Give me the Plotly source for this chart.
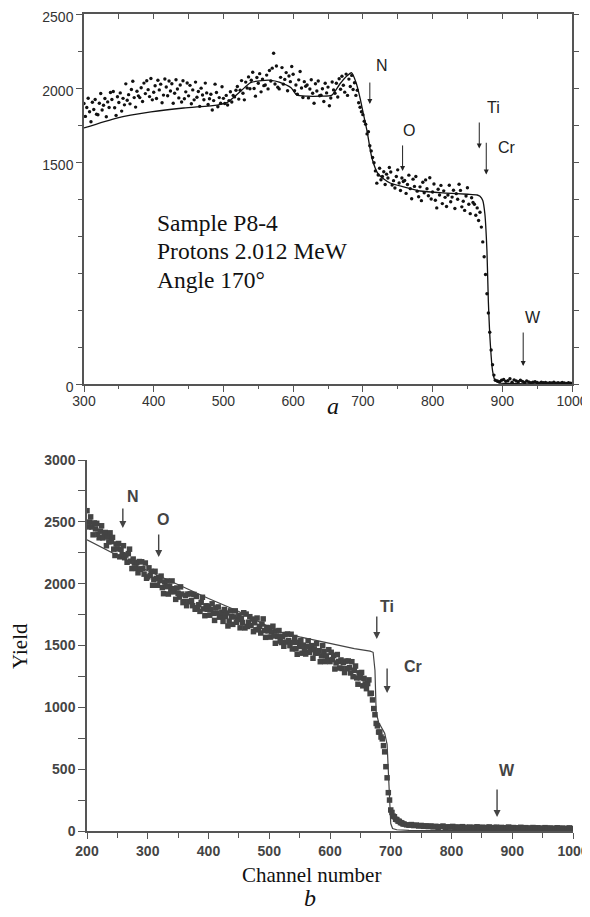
import plotly.graph_objects as go

# ---------------- data: panel a ----------------
chan_a_main = list(range(300, 870, 2))
yield_a_main = [
    1895, 1808, 1868, 1931, 1840, 1772, 1904, 1855, 1922, 1823,
    1819, 1897, 1963, 1851, 1883, 1929, 1806, 1906, 1868, 1970,
    1922, 1976, 1867, 1815, 1941, 1902, 1967, 1844, 1930, 1886,
    2028, 1917, 1955, 1893, 1990, 2046, 1935, 1871, 1978, 1947,
    1935, 2002, 1909, 2033, 1962, 2049, 1989, 1942, 2064, 1920,
    1971, 2015, 1929, 2052, 1987, 2026, 1900, 1952, 2061, 2007,
    1948, 2047, 1980, 2029, 1897, 1965, 2056, 1993, 1933, 2020,
    1905, 2049, 1927, 1974, 2034, 1947, 2018, 1894, 1987, 1920,
    2040, 1938, 1976, 1876, 1999, 1953, 1921, 2033, 1967, 1889,
    1927, 1958, 1851, 1915, 2026, 1970, 1873, 1935, 1897, 2008,
    1930, 1895, 1950, 1885, 1915, 1975, 1905, 1950, 1940, 1985,
    2010, 1925, 1985, 2050, 1965, 1920, 2040, 2000, 2075, 1995,
    2052, 2106, 1997, 1945, 2071, 2032, 2097, 1974, 2060, 2016,
    2020, 2087, 1994, 2118, 2047, 2134, 2235, 2027, 2149, 2005,
    1994, 2072, 2138, 2026, 2058, 2104, 1981, 2081, 2043, 2145,
    2093, 1982, 2020, 1958, 2055, 2111, 2000, 1936, 2043, 2012,
    2020, 1933, 1993, 2056, 1965, 1897, 2029, 1980, 2047, 1948,
    1951, 1995, 1909, 2032, 1967, 2006, 1880, 1932, 2041, 1987,
    1965, 2032, 1939, 2063, 1992, 2079, 2019, 1972, 2094, 1950,
    2060, 2010, 2085, 1990, 2035, 1950, 1985, 1900, 1870, 1840,
    1820, 1775, 1755, 1690, 1705, 1610, 1575, 1530, 1495, 1440,
    1357, 1412, 1458, 1380, 1402, 1434, 1348, 1418, 1392, 1463,
    1432, 1344, 1374, 1324, 1402, 1447, 1358, 1307, 1392, 1368,
    1375, 1288, 1348, 1411, 1320, 1252, 1384, 1335, 1402, 1303,
    1265, 1332, 1239, 1363, 1292, 1379, 1319, 1272, 1394, 1250,
    1297, 1351, 1242, 1190, 1316, 1277, 1342, 1219, 1305, 1261,
    1199, 1277, 1343, 1231, 1263, 1309, 1186, 1286, 1248, 1350,
    1308, 1197, 1235, 1173, 1270, 1326, 1215, 1151, 1258, 1227,
    1215, 1140, 1190, 1105, 1160,
]
chan_a_edge = [870, 872, 874, 876, 878, 880, 882, 884, 886, 888, 890]
yield_a_edge = [1060, 960, 860, 740, 610, 480, 350, 230, 130, 60, 25]
chan_a_tail = list(range(893, 1000, 3))
yield_a_tail = [
    20, 15, 25, 30, 18, 22, 35, 12, 28, 20, 15, 25, 18, 10, 20, 14, 8, 12,
    15, 10, 6, 12, 8, 10, 5, 9, 7, 12, 6, 8, 5, 10, 7, 4, 8, 6,
]
fit_a_chan = [300, 347, 396, 443, 491, 505, 525, 539, 555, 568, 580, 597, 605,
              620, 640, 655, 667, 677, 684, 690, 696, 701, 706, 713, 722, 739,
              760, 782, 820, 850, 864, 868, 872, 875, 878, 880, 883, 886, 889,
              895, 920, 1000]
fit_a_yield = [1730, 1797, 1838, 1865, 1885, 1901, 1980, 2036, 2050, 2052, 2040,
               2002, 1953, 1945, 1945, 1950, 2027, 2081, 2103, 2040, 1932, 1820,
               1710, 1527, 1419, 1358, 1330, 1304, 1290, 1282, 1277, 1268, 1240,
               1150, 900, 560, 260, 90, 30, 8, 3, 0]

# ---------------- data: panel b ----------------
chan_b_main = list(range(200, 670, 2))
yield_b_main = [
    2590, 2459, 2498, 2540, 2458, 2395, 2491, 2443, 2488, 2399,
    2371, 2425, 2468, 2370, 2386, 2414, 2307, 2378, 2338, 2411,
    2340, 2374, 2279, 2228, 2321, 2281, 2325, 2217, 2278, 2234,
    2307, 2210, 2232, 2173, 2243, 2279, 2182, 2122, 2199, 2166,
    2124, 2170, 2088, 2179, 2116, 2177, 2122, 2077, 2167, 2044,
    2055, 2128, 2067, 2099, 1987, 2034, 2100, 2042, 1987, 2050,
    2025, 2061, 1968, 1919, 2014, 1976, 2022, 1916, 1979, 1937,
    2022, 1934, 1959, 1873, 1965, 1922, 1891, 1974, 1916, 1847,
    1854, 1903, 1822, 1916, 1854, 1918, 1864, 1822, 1913, 1793,
    1897, 1805, 1830, 1776, 1849, 1890, 1796, 1741, 1821, 1793,
    1818, 1745, 1789, 1837, 1760, 1703, 1804, 1762, 1812, 1729,
    1736, 1768, 1695, 1791, 1735, 1763, 1658, 1697, 1780, 1734,
    1671, 1731, 1780, 1688, 1710, 1744, 1643, 1720, 1686, 1765,
    1642, 1754, 1654, 1688, 1733, 1661, 1714, 1612, 1684, 1627,
    1722, 1630, 1655, 1601, 1674, 1715, 1621, 1566, 1646, 1618,
    1643, 1568, 1610, 1656, 1577, 1518, 1617, 1573, 1621, 1536,
    1524, 1574, 1494, 1589, 1528, 1593, 1540, 1499, 1591, 1472,
    1525, 1565, 1474, 1429, 1526, 1492, 1540, 1438, 1503, 1465,
    1431, 1490, 1538, 1445, 1466, 1499, 1397, 1473, 1438, 1516,
    1438, 1458, 1369, 1416, 1500, 1452, 1370, 1416, 1382, 1466,
    1370, 1445, 1386, 1420, 1310, 1359, 1427, 1371, 1318, 1383,
    1314, 1362, 1281, 1374, 1312, 1375, 1321, 1278, 1369, 1248,
    1300, 1334, 1238, 1187, 1279, 1239, 1282, 1174, 1234, 1190,
    1151, 1192, 1222, 1111, 1114,
]
chan_b_edge = list(range(670, 722, 2))
yield_b_edge = [1060, 990, 940, 870, 850, 800, 800, 760, 745, 690, 640, 520,
                430, 310, 250, 170, 150, 120, 115, 95, 92, 80, 78, 68, 66, 58]
chan_b_tail = list(range(722, 1000, 4))
yield_b_tail = [
    56, 50, 47, 52, 44, 48, 40, 45, 38, 42,
    36, 41, 33, 38, 30, 35, 40, 28, 34, 31,
    37, 29, 33, 26, 35, 30, 27, 32, 24, 30,
    34, 27, 31, 25, 29, 33, 22, 28, 31, 25,
    29, 23, 27, 32, 24, 28, 21, 26, 30, 22,
    27, 25, 20, 28, 23, 26, 19, 24, 27, 21,
    25, 18, 23, 26, 20, 24, 17, 22, 25, 20,
]
fit_b_chan = [200, 225, 250, 275, 300, 350, 400, 450, 500, 515, 550, 600, 640,
              666, 671, 674, 676, 680, 686, 690, 694, 697, 700, 703, 710, 730, 1000]
fit_b_yield = [2355, 2290, 2225, 2165, 2105, 1990, 1880, 1775, 1650, 1612, 1570,
               1515, 1475, 1455, 1445, 1300, 960, 880, 820, 790, 700, 300, 60,
               20, 10, 5, 3]

elements = ["N", "O", "Ti", "Cr", "W"]
edge_chan_a = [710, 757, 867, 877, 930]
edge_chan_b = [259, 318, 677, 694, 875]

a_ticks_x = [300, 400, 500, 600, 700, 800, 900, 1000]
a_ticks_y = [0, 1500, 2000, 2500]

# ---------------- figure ----------------
# the page body has an 8 px margin, so the figure is offset by 8 px
OFF = 8
W, H = 590 - OFF, 917 - OFF
SANS = "Liberation Sans, Arial, sans-serif"
SERIF = "Liberation Serif, Times New Roman, serif"

def px_x(p):
    return (p - OFF) / W

def px_y(p):
    return 1 - (p - OFF) / H

fig = go.Figure()

fig.add_trace(go.Scatter(
    x=chan_a_main + chan_a_edge + chan_a_tail,
    y=yield_a_main + yield_a_edge + yield_a_tail,
    mode="markers", marker=dict(size=3.4, color="#111"),
    xaxis="x", yaxis="y", showlegend=False))
fig.add_trace(go.Scatter(
    x=fit_a_chan, y=fit_a_yield, mode="lines",
    line=dict(color="#111", width=1.3, shape="spline", smoothing=0.6),
    xaxis="x", yaxis="y", showlegend=False))
fig.add_trace(go.Scatter(x=[None], y=[None], xaxis="x3", yaxis="y3",
                         showlegend=False, hoverinfo="skip"))

fig.add_trace(go.Scatter(
    x=chan_b_main + chan_b_edge + chan_b_tail,
    y=yield_b_main + yield_b_edge + yield_b_tail,
    mode="markers", marker=dict(size=5.5, symbol="square", color="#444"),
    xaxis="x2", yaxis="y2", showlegend=False))
fig.add_trace(go.Scatter(
    x=fit_b_chan, y=fit_b_yield, mode="lines",
    line=dict(color="#444", width=1.2),
    xaxis="x2", yaxis="y2", showlegend=False))

axa_common = dict(showgrid=False, zeroline=False, showline=True,
                  linecolor="#555", linewidth=1.5, tickcolor="#555",
                  tickwidth=1.2, automargin=False, ticklabeloverflow="allow")
axb_common = dict(showgrid=False, zeroline=False, showline=True,
                  linecolor="#555", linewidth=1.5, tickcolor="#555",
                  tickwidth=1.2, automargin=False, ticklabeloverflow="allow")
fig.update_layout(
    width=W, height=H, margin=dict(l=0, r=0, t=0, b=0),
    paper_bgcolor="white", plot_bgcolor="white",
    xaxis=dict(domain=[px_x(84), px_x(572)], anchor="y", range=[300, 1000],
               tickmode="array", tickvals=a_ticks_x, ticks="outside", ticklen=6,
               tickfont=dict(family=SANS, size=14, color="#333"),
               ticklabelstandoff=-3,
               minor=dict(dtick=50, tick0=300, ticks="outside", ticklen=3,
                          tickcolor="#555"),
               **axa_common),
    yaxis=dict(domain=[px_y(384), px_y(14)], anchor="x", range=[0, 2500],
               tickmode="array", tickvals=a_ticks_y, ticks="outside", ticklen=6,
               tickfont=dict(family=SANS, size=14, color="#333"),
               ticklabelshift=3,
               minor=dict(dtick=250, tick0=0, ticks="outside", ticklen=4,
                          tickcolor="#555"),
               **axa_common),
    xaxis3=dict(overlaying="x", side="top", anchor="y", range=[300, 1000],
                dtick=50, tick0=300, ticks="inside", ticklen=5,
                showticklabels=False, **axa_common),
    yaxis3=dict(overlaying="y", side="right", anchor="x", range=[0, 2500],
                dtick=250, tick0=0, ticks="outside", ticklen=5,
                showticklabels=False, **axa_common),
    xaxis2=dict(domain=[px_x(87), px_x(573)], anchor="y2", range=[200, 1000],
                dtick=100, tick0=200, ticks="outside", ticklen=6,
                tickfont=dict(family=SANS, size=14, color="#444", weight="bold"),
                minor=dict(dtick=50, tick0=200, ticks="outside", ticklen=5,
                           tickcolor="#555"),
                **axb_common),
    yaxis2=dict(domain=[px_y(831), px_y(460)], anchor="x2", range=[0, 3000],
                dtick=500, tick0=0, ticks="outside", ticklen=7,
                tickfont=dict(family=SANS, size=14, color="#444", weight="bold"),
                minor=dict(dtick=250, tick0=0, ticks="outside", ticklen=7,
                           tickcolor="#555"),
                **axb_common),
)

ann = []
# panel a element markers: (label x, label y, arrow tail y, arrow head y)
a_pos = [(727, 2155, 2047, 1892), (766, 1710, 1622, 1439),
         (887, 1865, 1777, 1592), (907, 1595, 1640, 1415), (944, 446, 358, 122)]
for el, ch, (lx, ly, ty, hy) in zip(elements, edge_chan_a, a_pos):
    ann.append(dict(xref="x", yref="y", x=lx, y=ly, text=el, showarrow=False,
                    xanchor="center", yanchor="middle",
                    font=dict(family=SANS, size=16, color="#222")))
    ann.append(dict(xref="x", yref="y", axref="x", ayref="y", x=ch, y=hy,
                    ax=ch, ay=ty, text="", showarrow=True, arrowhead=2,
                    arrowsize=1, arrowwidth=1, arrowcolor="#222", standoff=0))
b_pos = [(276, 2701, 2620, 2450), (325, 2515, 2410, 2215),
         (694, 1819, 1747, 1552), (737, 1334, 1326, 1116), (891, 493, 348, 113)]
for el, ch, (lx, ly, ty, hy) in zip(elements, edge_chan_b, b_pos):
    ann.append(dict(xref="x2", yref="y2", x=lx, y=ly, text=el, showarrow=False,
                    xanchor="center", yanchor="middle",
                    font=dict(family=SANS, size=16, color="#444", weight="bold")))
    ann.append(dict(xref="x2", yref="y2", axref="x2", ayref="y2", x=ch, y=hy,
                    ax=ch, ay=ty, text="", showarrow=True, arrowhead=2,
                    arrowsize=1, arrowwidth=1.4, arrowcolor="#444", standoff=0))

for txt, yy in [("Sample P8-4", 223), ("Protons 2.012 MeW", 251),
                ("Angle 170°", 280)]:
    ann.append(dict(xref="paper", yref="paper", x=px_x(155), y=px_y(yy),
                    xanchor="left", yanchor="middle", text=txt, showarrow=False,
                    font=dict(family=SERIF, size=23.5, color="#111")))

centered = dict(xref="paper", yref="paper", xanchor="center",
                yanchor="middle", showarrow=False)
ann.append(dict(x=px_x(333), y=px_y(406), text="<i>a</i>",
                font=dict(family=SERIF, size=24, color="#111"), **centered))
ann.append(dict(x=px_x(311), y=px_y(875), text="Channel number",
                font=dict(family=SERIF, size=21, color="#111"), **centered))
ann.append(dict(x=px_x(310), y=px_y(898), text="<i>b</i>",
                font=dict(family=SERIF, size=24, color="#111"), **centered))
ann.append(dict(x=px_x(20), y=px_y(646), text="Yield", textangle=-90,
                font=dict(family=SERIF, size=21, color="#111"), **centered))

fig.update_layout(annotations=ann)
fig.write_html("out.html")
